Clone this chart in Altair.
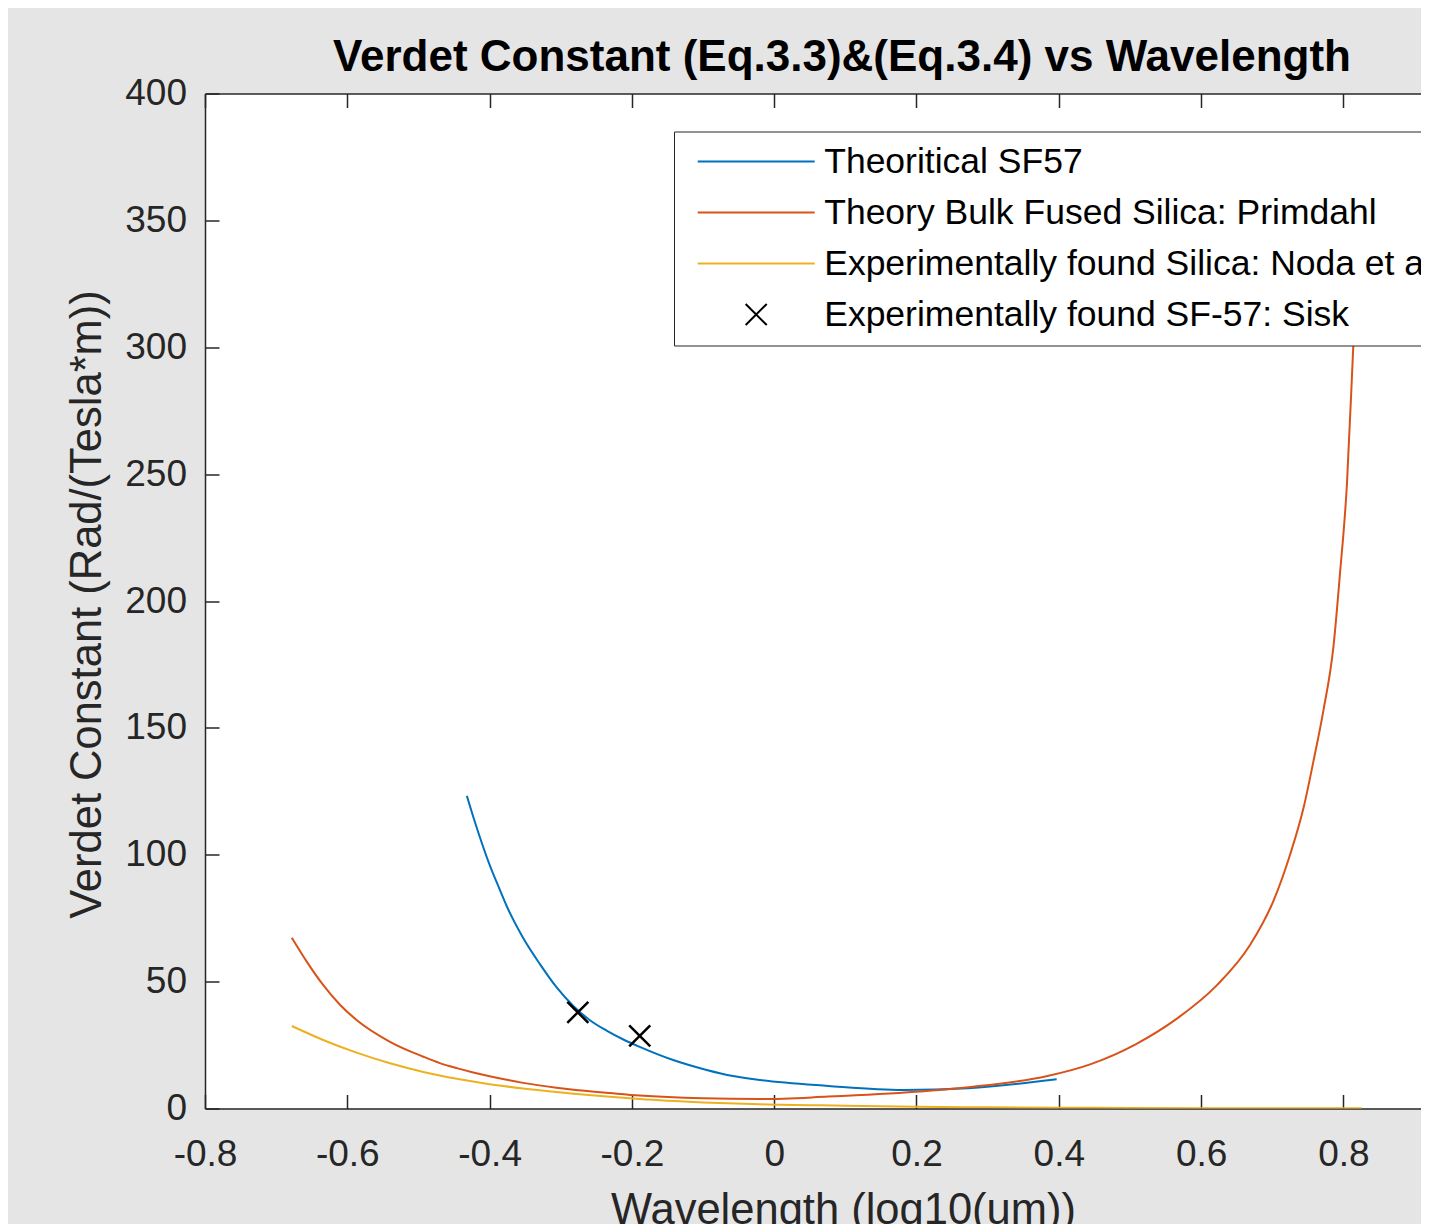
import altair as alt
import pandas as pd

# ---------------- data ----------------
sf57_x = [-0.432, -0.423, -0.399, -0.385, -0.376, -0.353, -0.329, -0.306, -0.282,
          -0.259, -0.235, -0.212, -0.189, -0.142, -0.095, -0.058, -0.020, 0.076,
          0.181, 0.273, 0.397]
sf57_y = [123.2, 115.0, 95.3, 85.8, 79.8, 67.3, 56.8, 47.8, 40.3,
          34.8, 30.6, 27.2, 24.3, 19.1, 15.2, 12.8, 11.2, 8.9,
          7.3, 8.0, 11.5]

primdahl_x = [-0.678, -0.657, -0.634, -0.610, -0.587, -0.540, -0.493, -0.470, -0.446,
              -0.423, -0.400, -0.376, -0.353, -0.306, -0.282, -0.231, -0.189, -0.100,
              -0.020, 0.076, 0.199, 0.273, 0.384, 0.446, 0.508, 0.566, 0.622, 0.669,
              0.702, 0.725, 0.744, 0.758, 0.772, 0.786, 0.795, 0.805, 0.814, 0.820, 0.826]
primdahl_y = [67.3, 57.9, 48.7, 40.8, 34.9, 26.3, 20.4, 17.9, 15.9,
              14.2, 12.7, 11.3, 10.1, 8.2, 7.4, 6.1, 5.1, 4.0,
              3.7, 4.7, 6.6, 8.4, 12.8, 17.6, 25.3, 35.4, 48.5, 64.5,
              82.0, 100.0, 118.5, 137.0, 157.0, 182.0, 210.1, 246.2, 301.1, 335.0, 372.0]

noda_x = [-0.678, -0.634, -0.587, -0.540, -0.493, -0.470, -0.446, -0.400, -0.353,
          -0.306, -0.282, -0.231, -0.189, -0.100, -0.020, 0.100, 0.200, 0.300,
          0.400, 0.500, 0.600, 0.700, 0.826]
noda_y = [32.5, 27.0, 22.0, 17.8, 14.4, 13.0, 11.7, 9.6, 7.9,
          6.5, 5.85, 4.6, 3.7, 2.4, 1.65, 1.1, 0.7, 0.45,
          0.3, 0.2, 0.12, 0.08, 0.05]

sisk_x = [-0.276, -0.189]
sisk_y = [37.9, 28.6]

series_names = [
    "Theoritical SF57",
    "Theory Bulk Fused Silica: Primdahl",
    "Experimentally found Silica: Noda et al.",
    "Experimentally found SF-57: Sisk",
]
series_colors = ["#0072BD", "#D95319", "#EDB120", "#000000"]

x_ticks = [-0.8, -0.6, -0.4, -0.2, 0, 0.2, 0.4, 0.6, 0.8]
y_ticks = [0, 50, 100, 150, 200, 250, 300, 350, 400]

# ---------------- tables ----------------
rows = []
for name, xs, ys in [(series_names[0], sf57_x, sf57_y),
                     (series_names[1], primdahl_x, primdahl_y),
                     (series_names[2], noda_x, noda_y)]:
    for i, (xv, yv) in enumerate(zip(xs, ys)):
        rows.append({"series": name, "x": xv, "y": yv, "i": i})
lines_df = pd.DataFrame(rows)
sisk_df = pd.DataFrame({"series": series_names[3], "x": sisk_x, "y": sisk_y})

# ---------------- style ----------------
FONT = "Liberation Sans"
INK = "#262626"
X_PATH = "M-0.18,-0.18L0.18,0.18M-0.18,0.18L0.18,-0.18"

x_scale = alt.Scale(domain=[-0.8, 0.90907], nice=False, zero=False)
y_scale = alt.Scale(domain=[0, 400], nice=False, zero=False)
color_scale = alt.Scale(domain=series_names, range=series_colors)
shape_scale = alt.Scale(domain=series_names, range=["stroke", "stroke", "stroke", X_PATH])

legend = alt.Legend(
    title=None, orient="none", legendX=469, legendY=38,
    labelFont=FONT, labelFontSize=35.5, labelColor="black", labelLimit=2000,
    symbolSize=13689, symbolStrokeWidth=2, clipHeight=36, rowPadding=14,
    padding=12, symbolOffset=10.7, labelOffset=8.5,
    strokeColor=INK, fillColor="white", zindex=2,
)

axis_common = dict(
    domainColor=INK, domainWidth=1.5, tickColor=INK, tickWidth=1.5,
    tickSize=alt.ExprRef("-14"), labelFont=FONT, labelFontSize=37,
    labelColor=INK, grid=False, titleFont=FONT, titleFontSize=43.5,
    titleColor=INK, titleFontWeight="normal", labelFlush=False, labelOverlap=False,
)

x_bottom = alt.Axis(
    orient="bottom", values=x_ticks, labelExpr="datum.value + ''",
    labelPadding=42.3, title="Wavelength (log10(um))", titleX=638, titleY=114.5,
    titleAlign="center", titleBaseline="alphabetic", **axis_common,
)
x_top = alt.Axis(orient="top", values=x_ticks, labels=False, title=None, **axis_common)
y_axis = alt.Axis(
    orient="left", values=y_ticks, format="d", labelPadding=32.5,
    title="Verdet Constant (Rad/(Tesla*m))", titleX=-95.9, titleY=510.5,
    titleAngle=270, titleAlign="center", titleBaseline="bottom", **axis_common,
)

lines = alt.Chart(lines_df).mark_line(strokeWidth=2, clip=True, interpolate="monotone").encode(
    x=alt.X("x:Q", scale=x_scale, axis=x_bottom),
    y=alt.Y("y:Q", scale=y_scale, axis=y_axis),
    color=alt.Color("series:N", scale=color_scale, legend=legend),
    order="i:Q",
)

points = alt.Chart(sisk_df).mark_point(filled=False, opacity=1, size=13689, strokeWidth=2.5, clip=True).encode(
    x=alt.X("x:Q", scale=x_scale, axis=x_top),
    y=alt.Y("y:Q", scale=y_scale, axis=y_axis),
    color=alt.Color("series:N", scale=color_scale, legend=legend),
    shape=alt.Shape("series:N", scale=shape_scale, legend=legend),
)

chart = alt.layer(lines, points).resolve_axis(x="independent").properties(
    width=1216, height=1015,
    autosize=alt.AutoSizeParams(type="none"),
    padding={"left": 197, "top": 85.5, "right": 0, "bottom": 115.5},
    background="#e5e5e5",
    title=alt.TitleParams(
        text="Verdet Constant (Eq.3.3)&(Eq.3.4) vs Wavelength",
        font=FONT, fontSize=44, fontWeight="bold", color="black",
        anchor="middle", dx=29, dy=62.6, offset=21.8, baseline="alphabetic", frame="group",
    ),
).configure_view(strokeWidth=0, fill="white")

chart.save("out.html", embed_options={"renderer": "svg", "actions": False})
